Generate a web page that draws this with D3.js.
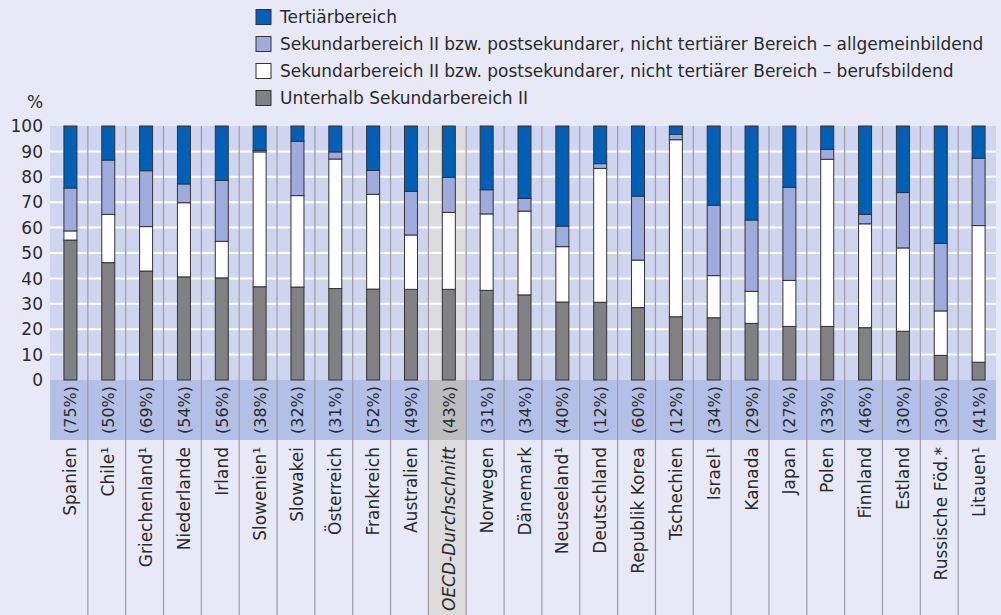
<!DOCTYPE html>
<html>
<head>
<meta charset="utf-8">
<script src="https://cdn.jsdelivr.net/npm/d3@7"></script>
<style>
  body { margin: 0; background: #e7e9f6; }
  text { font-family: "DejaVu Sans", sans-serif; fill: #2a2a2a; }
</style>
</head>
<body>
<script>
//// Constants ///////////////////////////////////////
const WIDTH = 1001
const HEIGHT = 615

/// Data ///
const countries = ["Spanien", "Chile¹", "Griechenland¹", "Niederlande", "Irland", "Slowenien¹",
    "Slowakei", "Österreich", "Frankreich", "Australien", "OECD-Durchschnitt", "Norwegen",
    "Dänemark", "Neuseeland¹", "Deutschland", "Republik Korea", "Tschechien", "Israel¹",
    "Kanada", "Japan", "Polen", "Finnland", "Estland", "Russische Föd.*", "Litauen¹"]

const shares = ["(75%)", "(50%)", "(69%)", "(54%)", "(56%)", "(38%)", "(32%)", "(31%)", "(52%)",
    "(49%)", "(43%)", "(31%)", "(34%)", "(40%)", "(12%)", "(60%)", "(12%)", "(34%)", "(29%)",
    "(27%)", "(33%)", "(46%)", "(30%)", "(30%)", "(41%)"]

// stacked bottom to top
const unterhalb = [55.1, 46.2, 42.9, 40.6, 40.2, 36.7, 36.6, 36.0, 35.8, 35.7, 35.7, 35.3,
    33.5, 30.7, 30.6, 28.5, 24.9, 24.5, 22.3, 21.1, 21.1, 20.6, 19.2, 9.7, 7.0]
const berufsbildend = [3.6, 19.0, 17.5, 29.2, 14.4, 53.1, 36.0, 51.0, 37.3, 21.4, 30.3, 30.1,
    33.0, 21.8, 52.7, 18.7, 69.7, 16.6, 12.6, 18.1, 65.8, 40.9, 32.8, 17.5, 53.8]
const allgemeinbildend = [16.9, 21.4, 22.0, 7.4, 24.0, 0.6, 21.4, 2.8, 9.4, 17.2, 13.8, 9.5,
    5.0, 8.1, 1.9, 25.2, 2.1, 27.7, 28.1, 36.7, 3.9, 3.7, 21.8, 26.6, 26.5]
const tertiaer = [24.4, 13.4, 17.6, 22.8, 21.4, 9.6, 6.0, 10.2, 17.5, 25.7, 20.2, 25.1,
    28.5, 39.4, 14.8, 27.6, 3.3, 31.2, 37.0, 24.1, 9.2, 34.8, 26.2, 46.2, 12.7]

const yTicks = [0, 10, 20, 30, 40, 50, 60, 70, 80, 90, 100]

const legendLabels = [
    "Tertiärbereich",
    "Sekundarbereich II bzw. postsekundarer, nicht tertiärer Bereich – allgemeinbildend",
    "Sekundarbereich II bzw. postsekundarer, nicht tertiärer Bereich – berufsbildend",
    "Unterhalb Sekundarbereich II"
]
const colors = ["#0060b8", "#9eabdc", "#ffffff", "#808183"]

/// Layout ///
const plotLeft = 50
const plotRight = 996
const plotTop = 126
const plotBottom = 380
const bandBottom = 440
const barWidth = 13
const fontSize = "17px"
const highlight = "OECD-Durchschnitt"


const svg = d3.select("body")
    .append("svg")
    .attr("width", WIDTH)
    .attr("height", HEIGHT)

const x = d3.scaleBand()
    .domain(countries)
    .range([plotLeft, plotRight])

const y = d3.scaleLinear()
    .domain([0, 100])
    .range([plotBottom, plotTop])

const cx = d => x(d) + x.bandwidth() / 2 + 1.5

// backgrounds
svg.append("rect")
    .attr("x", plotLeft).attr("y", plotTop)
    .attr("width", plotRight - plotLeft).attr("height", plotBottom - plotTop)
    .style("fill", "#d0d5ef")
svg.append("rect")
    .attr("x", plotLeft).attr("y", plotBottom)
    .attr("width", plotRight - plotLeft).attr("height", bandBottom - plotBottom)
    .style("fill", "#b2bfe6")

// highlighted column
svg.append("rect")
    .attr("x", x(highlight)).attr("y", plotTop)
    .attr("width", x.bandwidth()).attr("height", plotBottom - plotTop)
    .style("fill", "#dcdcde")
svg.append("rect")
    .attr("x", x(highlight)).attr("y", plotBottom)
    .attr("width", x.bandwidth()).attr("height", bandBottom - plotBottom)
    .style("fill", "#bdbdc0")
svg.append("rect")
    .attr("x", x(highlight)).attr("y", bandBottom)
    .attr("width", x.bandwidth()).attr("height", HEIGHT - bandBottom)
    .style("fill", "#dcdcdc")

// grid lines
svg.selectAll(".grid")
    .data(yTicks.filter(t => t > 0 && t < 100))
    .enter().append("line")
    .attr("x1", plotLeft).attr("x2", plotRight)
    .attr("y1", d => y(d)).attr("y2", d => y(d))
    .style("stroke", "#fff")
    .style("stroke-width", 2)

// column dividers
svg.selectAll(".divider")
    .data(countries.slice(1))
    .enter().append("line")
    .attr("x1", d => x(d)).attr("x2", d => x(d))
    .attr("y1", plotTop).attr("y2", HEIGHT)
    .style("stroke", "#9c9ca6")
    .style("stroke-width", 1.2)

// y axis labels
svg.selectAll(".tick")
    .data(yTicks)
    .enter().append("text")
    .attr("x", 43)
    .attr("y", d => y(d))
    .attr("dy", "0.36em")
    .attr("text-anchor", "end")
    .style("font-size", fontSize)
    .text(d => d)

svg.append("text")
    .attr("x", 35).attr("y", 108)
    .attr("text-anchor", "middle")
    .style("font-size", fontSize)
    .text("%")

// stacked bars
const table = countries.map((c, i) => ({
    country: c,
    unterhalb: unterhalb[i],
    berufsbildend: berufsbildend[i],
    allgemeinbildend: allgemeinbildend[i],
    tertiaer: tertiaer[i]
}))
const keys = ["unterhalb", "berufsbildend", "allgemeinbildend", "tertiaer"]
const stack = d3.stack().keys(keys)(table)
const keyColor = {
    unterhalb: colors[3], berufsbildend: colors[2],
    allgemeinbildend: colors[1], tertiaer: colors[0]
}

svg.selectAll(".series")
    .data(stack)
    .enter().append("g")
    .style("fill", d => keyColor[d.key])
    .selectAll("rect")
    .data(d => d)
    .enter().append("rect")
    .attr("x", d => cx(d.data.country) - barWidth / 2)
    .attr("width", barWidth)
    .attr("y", d => y(Math.min(d[1], 100)))
    .attr("height", d => y(d[0]) - y(Math.min(d[1], 100)))
    .style("stroke", "#333")
    .style("stroke-width", 1)

// share labels in band
svg.selectAll(".share")
    .data(countries)
    .enter().append("text")
    .attr("transform", (d, i) => `translate(${cx(d) + 6},${(plotBottom + bandBottom) / 2}) rotate(-90)`)
    .attr("text-anchor", "middle")
    .style("font-size", "16px")
    .text((d, i) => shares[i])

// country labels
svg.selectAll(".country")
    .data(countries)
    .enter().append("text")
    .attr("transform", d => `translate(${cx(d) + 6},447) rotate(-90)`)
    .attr("text-anchor", "end")
    .style("font-size", fontSize)
    .style("font-style", d => d === highlight ? "italic" : "normal")
    .text(d => d)

// legend
const legend = svg.selectAll(".legend")
    .data(legendLabels)
    .enter().append("g")
    .attr("transform", (d, i) => `translate(256,${17 + i * 27})`)

legend.append("rect")
    .attr("x", 0).attr("y", -7.5)
    .attr("width", 15).attr("height", 15)
    .style("fill", (d, i) => colors[i])
    .style("stroke", "#333")

legend.append("text")
    .attr("x", 24)
    .attr("dy", "0.36em")
    .style("font-size", fontSize)
    .text(d => d)
</script>
</body>
</html>
